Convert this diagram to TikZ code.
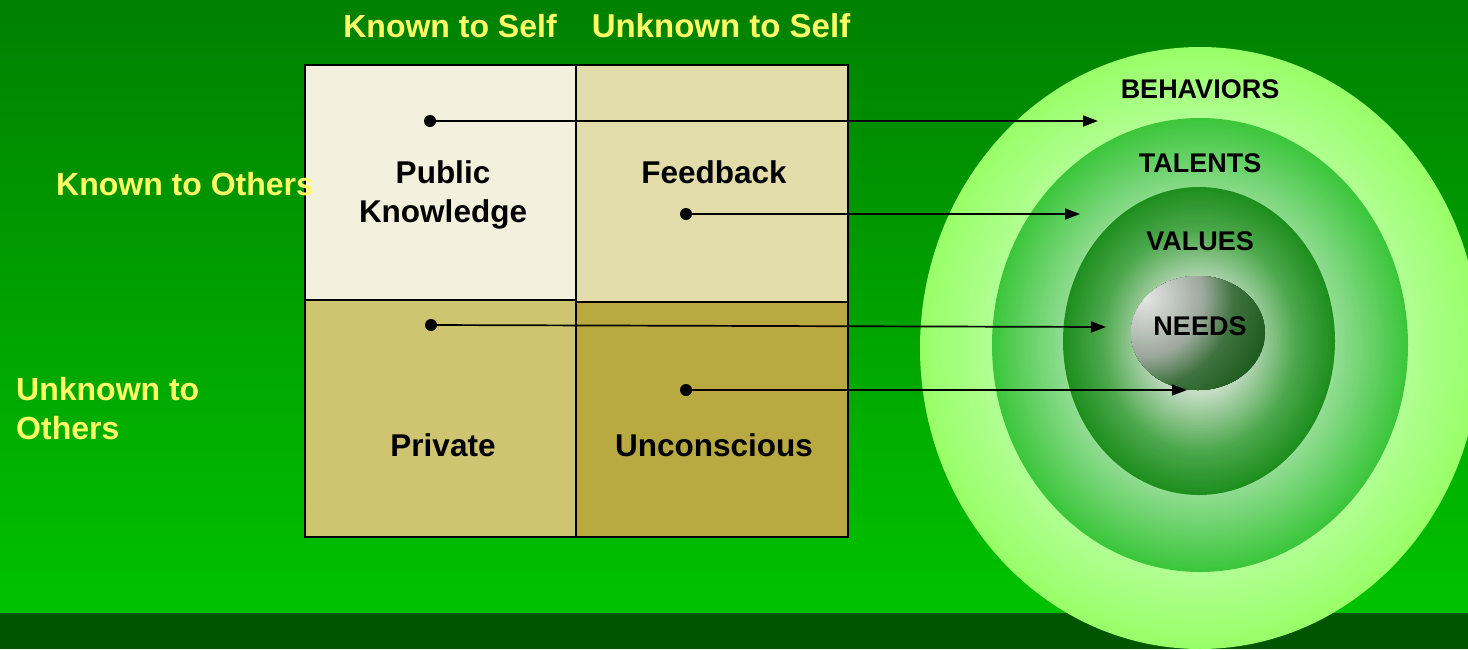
\documentclass[tikz,border=0pt]{standalone}
\usepackage{fontspec}
\setmainfont{Liberation Sans}
\usetikzlibrary{arrows.meta}
\definecolor{bgtop}{HTML}{008000}
\definecolor{bgbot}{HTML}{00C200}
\definecolor{bgband}{HTML}{005500}
\definecolor{hdr}{HTML}{FFFF66}
\definecolor{cellTL}{HTML}{F3F0DD}
\definecolor{cellTR}{HTML}{E2DCAB}
\definecolor{cellBL}{HTML}{CFC571}
\definecolor{cellBR}{HTML}{B8AA40}
\definecolor{ringAin}{HTML}{B2FF94}
\definecolor{ringAout}{HTML}{98FF68}
\definecolor{ringBin}{HTML}{96DE96}
\definecolor{ringBout}{HTML}{3CC63C}
\definecolor{ringCin}{HTML}{C4DCC4}
\definecolor{ringCmid}{HTML}{4CA84C}
\definecolor{ringCout}{HTML}{1E8E1E}
\definecolor{needA}{HTML}{E6E6E6}
\definecolor{needB}{HTML}{9AA89A}
\definecolor{needC}{HTML}{3F723F}
\definecolor{needD}{HTML}{1E5A1E}
% nested ellipses: cx, cy, rx, ry, fraction from, fraction to, colour from, colour to, steps
\newcommand\myringsteps[9]{%
  \foreach \i in {0,...,#9}{%
    \pgfmathsetmacro\myf{#5-(#5-#6)*\i/#9}%
    \pgfmathsetmacro\myp{100*\i/#9}%
    \pgfmathsetmacro\myrx{\myf*#3}%
    \pgfmathsetmacro\myry{\myf*#4}%
    \fill[#8!\myp!#7] (#1,#2) ellipse [x radius=\myrx pt, y radius=\myry pt];
  }}
\begin{document}
\begin{tikzpicture}[x=1pt,y=-1pt,
  hdrtext/.style={text=hdr,font=\fontsize{32}{39}\selectfont\bfseries,inner sep=0pt},
  celltext/.style={text=black,font=\fontsize{31.5}{39}\selectfont\bfseries,inner sep=0pt,align=center},
  ringtext/.style={text=black,font=\fontsize{27}{32}\selectfont\bfseries,inner sep=0pt},
  dot/.style={circle,fill=black,inner sep=0pt,minimum size=12pt},
  conn/.style={line width=1.7pt,-{Triangle[length=15pt,width=11pt]}},
  gridline/.style={line width=2pt,draw=black}]
\useasboundingbox (0,0) rectangle (1468,649);
% background
\shade[top color=bgtop,bottom color=bgbot] (0,0) rectangle (1468,613);
\fill[bgband] (0,613) rectangle (1468,649);
% circles
\myringsteps{1200}{348}{280}{301}{1}{0.74}{ringAout}{ringAin}{30}
\myringsteps{1200}{345}{208}{227}{1}{0.64}{ringBout}{ringBin}{36}
\myringsteps{1199}{341}{136}{154}{1}{0.72}{ringCout}{ringCmid}{28}
\myringsteps{1199}{341}{136}{154}{0.72}{0.35}{ringCmid}{ringCin}{36}
\begin{scope}
  \clip (1198,333) ellipse [x radius=67pt, y radius=57pt];
  \fill[needD] (1198,333) ellipse [x radius=67pt, y radius=57pt];
  \myringsteps{1145}{298}{1}{1}{130}{90}{needD}{needC}{20}
  \myringsteps{1145}{298}{1}{1}{90}{60}{needC}{needB}{15}
  \myringsteps{1145}{298}{1}{1}{60}{1}{needB}{needA}{30}
\end{scope}
% grid cells
\fill[cellTL] (305,65) rectangle (576,301);
\fill[cellTR] (576,65) rectangle (848,301);
\fill[cellBL] (305,301) rectangle (576,537);
\fill[cellBR] (576,301) rectangle (848,537);
\draw[gridline] (305,65) rectangle (848,537);
\draw[gridline] (576,65) -- (576,537);
\draw[gridline] (305,300) -- (576,300) -- (576,302) -- (848,302);
% headers
\node[hdrtext,anchor=base] (ks) at (450,37) {Known to Self};
\node[hdrtext,anchor=base,font=\fontsize{33}{39}\selectfont\bfseries] (us) at (721,37) {Unknown to Self};
\node[hdrtext,anchor=base west] (ko) at (56,195) {Known to Others};
\node[hdrtext,anchor=base west,align=left] (uo) at (16,439) {Unknown to\\Others};
% cell texts
\node[celltext,anchor=base] (pk) at (443,222) {Public\\Knowledge};
\node[celltext,anchor=base] (fb) at (714,183) {Feedback};
\node[celltext,anchor=base] (pr) at (443,456) {Private};
\node[celltext,anchor=base] (uc) at (714,456) {Unconscious};
% ring texts
\node[ringtext,anchor=base] (beh) at (1200,98) {BEHAVIORS};
\node[ringtext,anchor=base] (tal) at (1200,172) {TALENTS};
\node[ringtext,anchor=base] (val) at (1200,250) {VALUES};
\node[ringtext,anchor=base] (nee) at (1200,335) {NEEDS};
% connectors
\node[dot] (d1) at (430,121) {};
\node[dot] (d2) at (686,214) {};
\node[dot] (d3) at (431,325) {};
\node[dot] (d4) at (686,390) {};
\coordinate (e1) at (1098,121);
\coordinate (e2) at (1080,214);
\coordinate (e3) at (1106,327);
\coordinate (e4) at (1187,390);
\draw[conn] (d1.center) -- (e1);
\draw[conn] (d2.center) -- (e2);
\draw[conn] (d3.center) -- (e3);
\draw[conn] (d4.center) -- (e4);
\end{tikzpicture}
\end{document}
